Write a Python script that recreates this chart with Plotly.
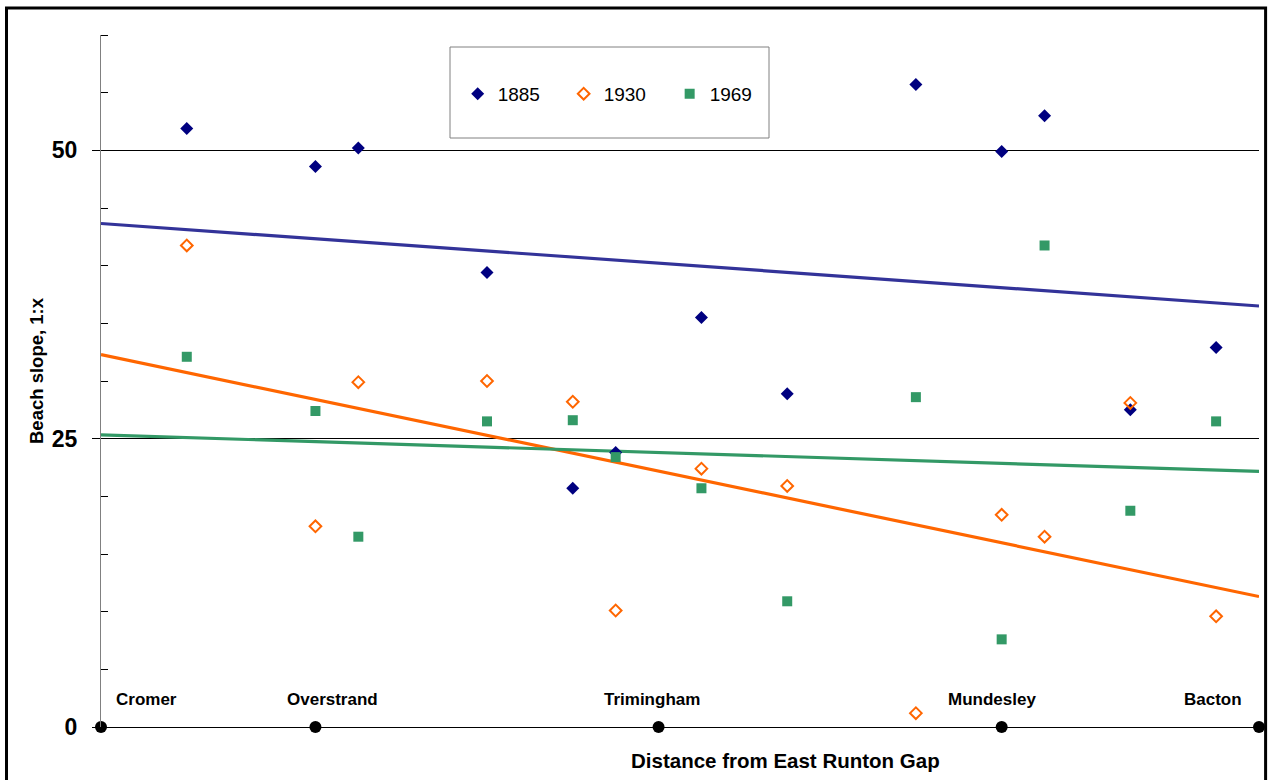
import numpy as np
import plotly.graph_objects as go

# ---- data ----
distance = [2, 5, 6, 9, 11, 12, 14, 16, 19, 21, 22, 24, 26]
slope_1885 = [51.9, 48.6, 50.2, 39.4, 20.7, 23.8, 35.5, 28.9, 55.7, 49.9, 53.0, 27.5, 32.9]
slope_1930 = [41.75, 17.4, 29.9, 30.0, 28.2, 10.1, 22.4, 20.9, 1.2, 18.4, 16.5, 28.1, 9.6]
slope_1969 = [32.1, 27.4, 16.5, 26.5, 26.6, 23.4, 20.7, 10.9, 28.6, 7.6, 41.75, 18.75, 26.5]

towns = ["Cromer", "Overstrand", "Trimingham", "Mundesley", "Bacton"]
town_distance = [0, 5, 13, 21, 27]
town_zero = [0, 0, 0, 0, 0]

x_range = [0, 27]
y_range = [0, 60]

FONT = "Arial, Liberation Sans, sans-serif"
NAVY = "#000080"
ORANGE = "#FF6600"
GREEN = "#339966"
TREND_NAVY = "#333399"

fig = go.Figure()

# trend lines (least squares fits computed from data)
xs = np.array(x_range, dtype=float)
for ys, col in [(slope_1885, TREND_NAVY), (slope_1930, ORANGE), (slope_1969, GREEN)]:
    k, b = np.polyfit(distance, ys, 1)
    fig.add_trace(go.Scatter(x=xs, y=k * xs + b, mode="lines",
                             line=dict(color=col, width=3.2), showlegend=False,
                             hoverinfo="skip", cliponaxis=False))

fig.add_trace(go.Scatter(x=distance, y=slope_1885, mode="markers", name="1885",
                         marker=dict(symbol="diamond", size=10, color=NAVY,
                                     line=dict(width=0))))
fig.add_trace(go.Scatter(x=distance, y=slope_1930, mode="markers", name="1930",
                         marker=dict(symbol="diamond-open", size=9, color=ORANGE,
                                     line=dict(width=2, color=ORANGE))))
fig.add_trace(go.Scatter(x=distance, y=slope_1969, mode="markers", name="1969",
                         marker=dict(symbol="square", size=10, color=GREEN,
                                     line=dict(width=0))))

# town positions on the x axis
fig.add_trace(go.Scatter(x=town_distance, y=town_zero, mode="markers",
                         marker=dict(symbol="circle", size=12, color="black"),
                         showlegend=False, cliponaxis=False, hoverinfo="skip"))

label_shift = [45, 17, -7, -10, -46]
for name, d, sh in zip(towns, town_distance, label_shift):
    fig.add_annotation(x=d, y=0, text=name, showarrow=False, xshift=sh, yshift=28,
                       xanchor="center", yanchor="middle",
                       font=dict(family=FONT, size=17, color="black", weight="bold"))

fig.update_layout(
    width=1268, height=780,
    margin=dict(l=101, r=9, t=35, b=53),
    paper_bgcolor="white", plot_bgcolor="white",
    font=dict(family=FONT, color="black"),
    showlegend=True,
    legend=dict(orientation="h", x=0.308, y=0.915, xanchor="left", yanchor="middle",
                bgcolor="rgba(0,0,0,0)", borderwidth=0, entrywidth=61,
                font=dict(family=FONT, size=19, color="black")),
    xaxis=dict(range=x_range, showgrid=False, zeroline=False, showline=True,
               linecolor="black", linewidth=1, showticklabels=False, ticks=""),
    yaxis=dict(range=y_range, dtick=25, tick0=0, showgrid=True, gridcolor="black",
               gridwidth=1, zeroline=False, showline=True, linecolor="#808080",
               linewidth=1, ticks="outside", ticklen=8, tickcolor="black",
               ticklabelstandoff=10,
               tickfont=dict(family=FONT, size=23, color="black", weight="bold"),
               minor=dict(dtick=5, tick0=0, ticks="inside", ticklen=7,
                          tickcolor="black", showgrid=False)),
)

# legend box
fig.add_shape(type="rect", xref="paper", yref="paper",
              x0=(450 - 101) / 1158, x1=(769 - 101) / 1158,
              y0=(727 - 138) / 692, y1=(727 - 47) / 692,
              line=dict(color="#808080", width=1), layer="below")

# outer frame
fig.add_shape(type="rect", xref="paper", yref="paper",
              x0=-0.0816, x1=1.0057, y0=-0.092, y1=1.039,
              line=dict(color="black", width=3), layer="above")

# axis titles
fig.add_annotation(xref="paper", yref="paper", x=(785 - 101) / 1158, y=(727 - 760) / 692,
                   xanchor="center", yanchor="middle",
                   text="Distance from East Runton Gap", showarrow=False,
                   font=dict(family=FONT, size=20.5, color="black", weight="bold"))
fig.add_annotation(xref="paper", yref="paper", x=(36 - 101) / 1158, y=(727 - 371) / 692,
                   xanchor="center", yanchor="middle",
                   text="Beach slope, 1:x", showarrow=False, textangle=-90,
                   font=dict(family=FONT, size=18.5, color="black", weight="bold"))

fig.write_html("out.html")
